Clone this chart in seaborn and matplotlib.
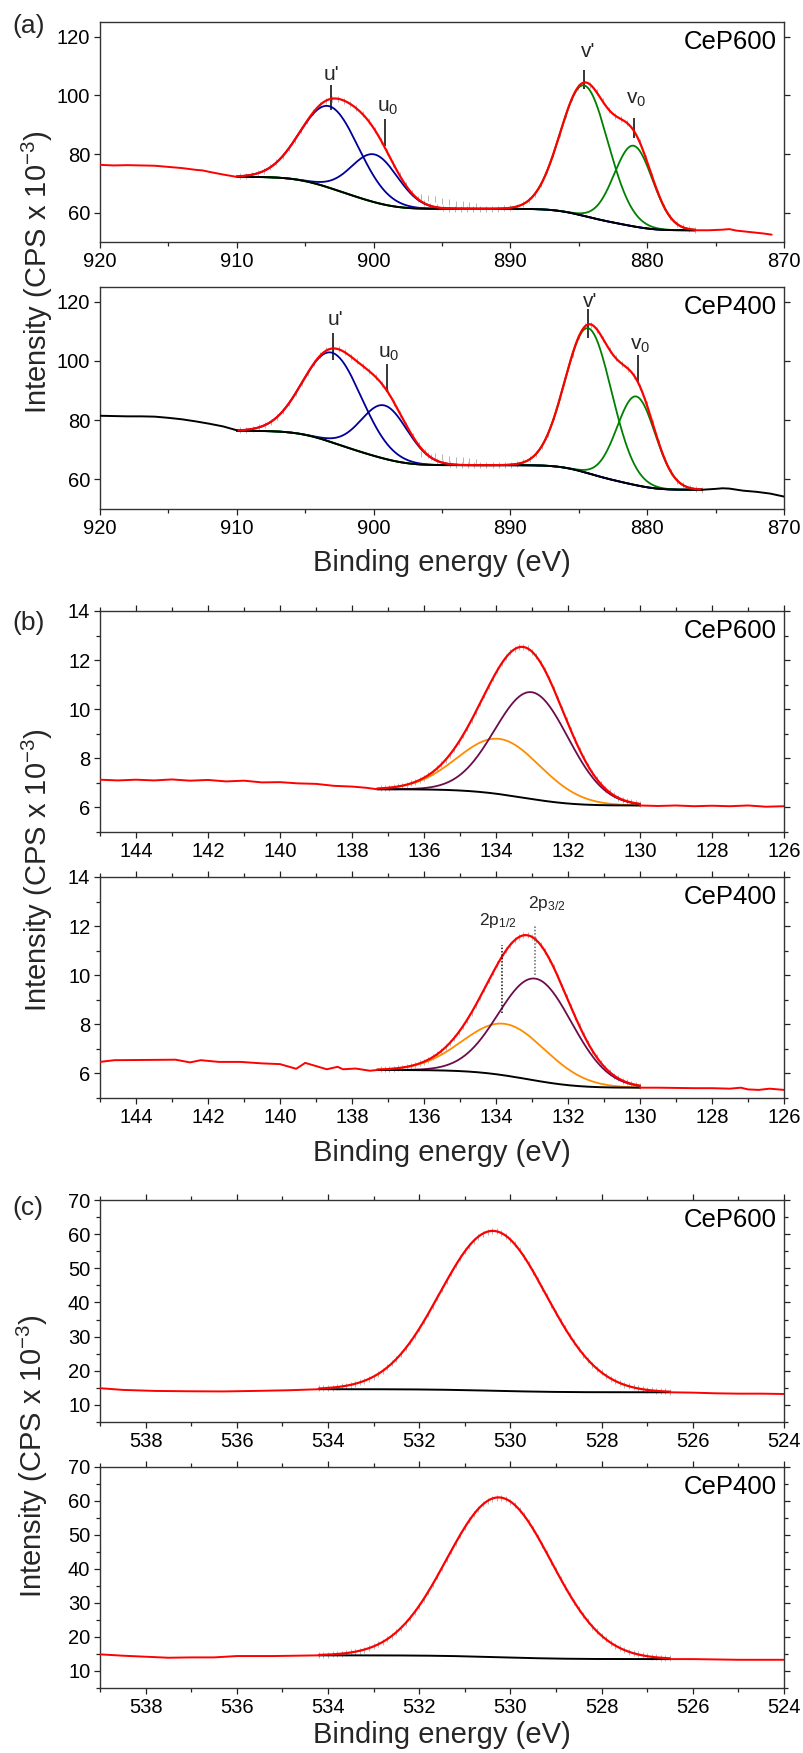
import numpy as np
import matplotlib
matplotlib.use("Agg")
import matplotlib.pyplot as plt
from matplotlib.ticker import MultipleLocator
import seaborn as sns

# ======================= DATA =======================
# ---- (a) Ce 3d ----
a_xlim = (920, 870)
a_ylim = (50, 125)
# fitted components: u', u0, v', v0  (centre eV, height above background, FWHM eV)
a600_centers = [903.2, 899.9, 884.6, 881.0]
a600_heights = [27.8, 16.3, 44.5, 27.5]
a600_fwhm = [5.0, 4.0, 4.1, 3.3]
a600_groups = [1, 1, 0, 0]
a600_bkg_levels = [54.0, 61.3, 72.2]
a600_fit_range = [876.5, 910.0]
a600_left_x = [920, 919, 918, 917, 916, 915, 914, 913, 912.5, 912, 911, 910]
a600_left_y = [76.3, 76.1, 76.2, 76.1, 76.0, 75.6, 75.2, 74.6, 74.4, 73.9, 73.0, 72.2]
a600_right_x = [876.5, 875.5, 874.5, 874.0, 873.5, 872.5, 871.5, 870.9]
a600_right_y = [54.0, 54.0, 54.2, 54.4, 53.9, 53.4, 52.9, 52.5]
a600_valley_x = [896.5, 896.0, 895.5, 895.0, 894.5, 894.0, 893.5, 893.0, 892.5]
a600_valley_y = [65.5, 65.0, 64.5, 64.0, 63.5, 63.1, 62.8, 62.5, 62.2]

a400_centers = [903.0, 899.2, 884.3, 880.8]
a400_heights = [30.3, 18.0, 49.0, 30.0]
a400_fwhm = [5.0, 4.0, 4.0, 3.3]
a400_groups = [1, 1, 0, 0]
a400_bkg_levels = [56.5, 64.8, 76.4]
a400_fit_range = [876.0, 910.0]
a400_left_x = [920, 919, 918, 917, 916, 915, 914, 913, 912, 911, 910]
a400_left_y = [81.5, 81.4, 81.3, 81.3, 81.2, 80.8, 80.3, 79.6, 78.8, 77.9, 76.6]
a400_right_x = [876.0, 875.0, 874.5, 874.0, 873.0, 872.0, 871.0, 870.0]
a400_right_y = [56.5, 56.8, 57.0, 56.9, 56.2, 55.8, 55.2, 54.2]
a400_valley_x = [896.5, 896.0, 895.5, 895.0, 894.5, 894.0, 893.5, 893.0, 892.5]
a400_valley_y = [68.5, 68.2, 67.8, 67.4, 67.0, 66.7, 66.4, 66.1, 65.8]

# peak markers (x, y_low, y_high) and labels (x, baseline y)
a_mark_labels = ["u'", "u$_{\\mathregular{0}}$", "v'", "v$_{\\mathregular{0}}$"]
a600_mark_x = [903.1, 899.2, 884.6, 881.0]
a600_mark_y0 = [95.0, 82.7, 102.0, 85.4]
a600_mark_y1 = [103.4, 91.9, 108.8, 92.2]
a600_lab_x = [903.1, 899.0, 884.35, 880.8]
a600_lab_y = [105.1, 94.3, 113.0, 97.2]
a400_mark_x = [903.0, 899.0, 884.3, 880.7]
a400_mark_y0 = [100.5, 89.4, 107.9, 92.4]
a400_mark_y1 = [109.3, 98.9, 117.6, 101.9]
a400_lab_x = [902.8, 898.9, 884.2, 880.5]
a400_lab_y = [112.1, 101.1, 118.4, 103.7]

# ---- (b) P 2p ----  components: 2p1/2 (orange), 2p3/2 (purple)
b_xlim = (145, 126)
b_ylim = (5, 14)
b600_centers = [133.9, 133.0]
b600_heights = [2.25, 4.35]
b600_fwhm = [2.7, 2.4]
b600_groups = [0, 0]
b600_bkg_levels = [6.08, 6.74]
b600_fit_range = [130.0, 137.3]
b600_left_x = [145.0, 144.5, 144.0, 143.5, 143.0, 142.5, 142.0, 141.5, 141.0, 140.5, 140.0,
               139.5, 139.0, 138.5, 138.0, 137.6, 137.3]
b600_left_y = [7.13, 7.10, 7.13, 7.10, 7.14, 7.09, 7.12, 7.06, 7.09, 7.02, 7.03,
               6.98, 6.96, 6.88, 6.85, 6.80, 6.74]
b600_right_x = [130.0, 129.5, 129.0, 128.5, 128.0, 127.5, 127.0, 126.5, 126.0]
b600_right_y = [6.08, 6.06, 6.08, 6.05, 6.07, 6.05, 6.08, 6.03, 6.05]

b400_centers = [133.75, 132.9]
b400_heights = [2.1, 4.15]
b400_fwhm = [2.7, 2.4]
b400_groups = [0, 0]
b400_bkg_levels = [5.42, 6.14]
b400_fit_range = [130.0, 137.3]
b400_left_x = [145.0, 144.6, 143.7, 142.9, 142.5, 142.2, 141.7, 141.1, 140.5, 140.0, 139.55,
               139.3, 139.0, 138.7, 138.4, 138.25, 137.9, 137.5, 137.3]
b400_left_y = [6.47, 6.54, 6.55, 6.56, 6.45, 6.54, 6.47, 6.47, 6.41, 6.38, 6.19,
               6.43, 6.30, 6.17, 6.27, 6.17, 6.20, 6.11, 6.14]
b400_right_x = [130.0, 129.5, 129.0, 128.5, 128.0, 127.5, 127.2, 127.0, 126.7, 126.4, 126.0]
b400_right_y = [5.42, 5.42, 5.41, 5.40, 5.40, 5.38, 5.42, 5.35, 5.33, 5.38, 5.33]
b_dot_x = [133.83, 132.92]
b_dot_y0 = [8.46, 10.02]
b_dot_y1 = [11.24, 12.0]
b_dot_colors = ["#111111", "#666666"]
b_lab_text = ["2p$_{\\mathregular{1/2}}$", "2p$_{\\mathregular{3/2}}$"]
b_lab_x = [134.46, 133.1]
b_lab_y = [12.06, 12.74]

# ---- (c) O 1s ----
c_xlim = (539, 524)
c_ylim = (5, 70)
c600_centers = [530.38]
c600_heights = [46.8]
c600_fwhm = [2.74]
c600_groups = [0]
c600_bkg_levels = [13.7, 14.6]
c600_fit_range = [526.5, 534.2]
c600_left_x = [539.0, 538.5, 537.8, 537.05, 536.3, 535.6, 534.85, 534.2]
c600_left_y = [14.9, 14.4, 14.1, 14.0, 13.95, 14.1, 14.3, 14.6]
c600_right_x = [526.5, 526.0, 525.5, 525.0, 524.5, 524.0]
c600_right_y = [13.7, 13.6, 13.4, 13.3, 13.3, 13.2]

c400_centers = [530.25]
c400_heights = [47.0]
c400_fwhm = [2.7]
c400_groups = [0]
c400_bkg_levels = [13.5, 14.6]
c400_fit_range = [526.5, 534.2]
c400_left_x = [539.0, 538.5, 538.0, 537.5, 537.0, 536.5, 536.0, 535.2, 534.7, 534.2]
c400_left_y = [14.9, 14.5, 14.2, 13.9, 14.0, 14.0, 14.4, 14.4, 14.5, 14.6]
c400_right_x = [526.5, 526.0, 525.5, 525.0, 524.5, 524.0]
c400_right_y = [13.5, 13.5, 13.4, 13.3, 13.3, 13.3]

sample_names = ["CeP600", "CeP400"]

# ======================= STYLE =======================
sns.set_theme(style="ticks")
plt.rcParams["font.family"] = ["Liberation Sans", "DejaVu Sans"]
plt.rcParams["mathtext.fontset"] = "custom"
plt.rcParams["mathtext.rm"] = "Liberation Sans"
plt.rcParams["mathtext.it"] = "Liberation Sans"
plt.rcParams["mathtext.bf"] = "Liberation Sans"
plt.rcParams["axes.linewidth"] = 1.0
plt.rcParams["axes.edgecolor"] = "#333333"

RED = "#ff0000"
BLUE = "#000099"
GREEN = "#008000"
PURPLE = "#6b0d4d"
ORANGE = "#ff8c00"
GREY = "#b4b4b4"

W, H = 804, 1753
fig = plt.figure(figsize=(W / 100, H / 100), dpi=100)
L, R = 100, 784


def add_ax(top, bottom):
    return fig.add_axes([L / W, 1 - bottom / H, (R - L) / W, (bottom - top) / H])


def model(grid, centers, heights, fwhm, groups, levels):
    peaks = [h * np.exp(-4 * np.log(2) * ((grid - c) / w) ** 2)
             for c, h, w in zip(centers, heights, fwhm)]
    bkg = np.full_like(grid, levels[0], dtype=float)
    for g in range(len(levels) - 1):
        s = sum(p for p, gg in zip(peaks, groups) if gg == g)
        cum = np.cumsum(s)
        cum = cum / cum[-1]
        bkg = bkg + (levels[g + 1] - levels[g]) * cum
    return peaks, bkg


def draw(ax, centers, heights, fwhm, groups, levels, fit_range, comp_colors,
         left, right, raw_color, step):
    grid = np.linspace(fit_range[0], fit_range[1], 900)
    peaks, bkg = model(grid, centers, heights, fwhm, groups, levels)
    env = bkg + sum(peaks)
    # raw data marks in fit region
    xs = np.arange(fit_range[0], fit_range[1], step)
    ax.plot(xs, np.interp(xs, grid, env), ls="none", marker="|", ms=4.5,
            mew=0.7, color=GREY, zorder=1)
    for p, col in zip(peaks, comp_colors):
        if col is None:
            continue
        sns.lineplot(x=grid, y=bkg + p, ax=ax, color=col, lw=1.3, zorder=3,
                     estimator=None, errorbar=None)
    # background
    sns.lineplot(x=grid, y=bkg, ax=ax, color="black", lw=1.4, zorder=4,
                 estimator=None, errorbar=None)
    sns.lineplot(x=grid, y=env, ax=ax, color=RED, lw=1.6, zorder=5,
                 estimator=None, errorbar=None)
    for (xx, yy) in (left, right):
        sns.lineplot(x=xx, y=yy, ax=ax, color=raw_color, lw=1.4, zorder=5,
                     estimator=None, errorbar=None)


def style(ax, xlim, ylim, xmaj, xmin, ymaj, ymin, topright_minor):
    ax.set_xlim(*xlim)
    ax.set_ylim(*ylim)
    ax.xaxis.set_major_locator(MultipleLocator(xmaj))
    ax.xaxis.set_minor_locator(MultipleLocator(xmin))
    ax.yaxis.set_major_locator(MultipleLocator(ymaj))
    if ymin:
        ax.yaxis.set_minor_locator(MultipleLocator(ymin))
    else:
        ax.yaxis.set_minor_locator(plt.NullLocator())
    ax.tick_params(axis="both", which="major", direction="out", length=4.5,
                   width=0.9, pad=2.5, labelsize=14.5, colors="#222222",
                   labelcolor="black")
    ax.tick_params(axis="both", which="minor", direction="out", length=2.8,
                   width=0.9, colors="#222222")
    ax.tick_params(which="both", right=True, top=topright_minor)
    if not topright_minor:
        ax.tick_params(axis="y", which="minor", right=False)
        ax.tick_params(axis="x", which="both", top=False)
    ax.set_xlabel("")
    ax.set_ylabel("")
    for s in ax.spines.values():
        s.set_visible(True)


def name_tag(ax, text):
    ax.text(0.989, 0.962, text, transform=ax.transAxes, ha="right", va="top",
            fontsize=18.5, color="black", zorder=10)


# ---------------- (a) ----------------
ax = add_ax(22, 242)
draw(ax, a600_centers, a600_heights, a600_fwhm, a600_groups, a600_bkg_levels,
     a600_fit_range, [BLUE, BLUE, GREEN, GREEN],
     (a600_left_x, a600_left_y), (a600_right_x, a600_right_y), RED, 0.45)
ax.plot(a600_valley_x, a600_valley_y, ls="none", marker="|", ms=4.5, mew=0.7,
        color=GREY, zorder=1)
ax.vlines(a600_mark_x, a600_mark_y0, a600_mark_y1, color="black", lw=1.1, zorder=2)
for t, x, y in zip(a_mark_labels, a600_lab_x, a600_lab_y):
    ax.text(x, y, t, ha="center", va="baseline", fontsize=15)
style(ax, a_xlim, a_ylim, 10, 5, 20, None, False)
name_tag(ax, sample_names[0])

ax = add_ax(287, 509)
draw(ax, a400_centers, a400_heights, a400_fwhm, a400_groups, a400_bkg_levels,
     a400_fit_range, [BLUE, BLUE, GREEN, GREEN],
     (a400_left_x, a400_left_y), (a400_right_x, a400_right_y), "black", 0.45)
ax.plot(a400_valley_x, a400_valley_y, ls="none", marker="|", ms=4.5, mew=0.7,
        color=GREY, zorder=1)
ax.vlines(a400_mark_x, a400_mark_y0, a400_mark_y1, color="black", lw=1.1, zorder=2)
for t, x, y in zip(a_mark_labels, a400_lab_x, a400_lab_y):
    ax.text(x, y, t, ha="center", va="baseline", fontsize=15)
style(ax, a_xlim, a_ylim, 10, 5, 20, None, False)
name_tag(ax, sample_names[1])

# ---------------- (b) ----------------
ax = add_ax(611, 832)
draw(ax, b600_centers, b600_heights, b600_fwhm, b600_groups, b600_bkg_levels,
     b600_fit_range, [ORANGE, PURPLE],
     (b600_left_x, b600_left_y), (b600_right_x, b600_right_y), RED, 0.12)
style(ax, b_xlim, b_ylim, 2, 1, 2, 1, True)
name_tag(ax, sample_names[0])

ax = add_ax(877, 1098)
draw(ax, b400_centers, b400_heights, b400_fwhm, b400_groups, b400_bkg_levels,
     b400_fit_range, [ORANGE, PURPLE],
     (b400_left_x, b400_left_y), (b400_right_x, b400_right_y), RED, 0.12)
for x, y0, y1, col in zip(b_dot_x, b_dot_y0, b_dot_y1, b_dot_colors):
    ax.vlines(x, y0, y1, color=col, lw=1.1, linestyles=(0, (1, 1.2)), zorder=6)
for t, x, y in zip(b_lab_text, b_lab_x, b_lab_y):
    ax.text(x, y, t, ha="left", va="baseline", fontsize=12.5)
style(ax, b_xlim, b_ylim, 2, 1, 2, 1, True)
name_tag(ax, sample_names[1])

# ---------------- (c) ----------------
ax = add_ax(1200, 1422)
draw(ax, c600_centers, c600_heights, c600_fwhm, c600_groups, c600_bkg_levels,
     c600_fit_range, [None],
     (c600_left_x, c600_left_y), (c600_right_x, c600_right_y), RED, 0.1)
style(ax, c_xlim, c_ylim, 2, 1, 10, 5, True)
name_tag(ax, sample_names[0])

ax = add_ax(1467, 1688)
draw(ax, c400_centers, c400_heights, c400_fwhm, c400_groups, c400_bkg_levels,
     c400_fit_range, [None],
     (c400_left_x, c400_left_y), (c400_right_x, c400_right_y), RED, 0.1)
style(ax, c_xlim, c_ylim, 2, 1, 10, 5, True)
name_tag(ax, sample_names[1])

# ---------------- labels ----------------
ylab = "Intensity (CPS x 10$^{\\mathregular{-3}}$)"
for xc, yc in [(37, 272), (37, 870), (32, 1456)]:
    fig.text(xc / W, 1 - yc / H, ylab, rotation=90, ha="center", va="center",
             fontsize=21)
for yc in [563, 1153, 1735]:
    fig.text((L + R) / 2 / W, 1 - yc / H, "Binding energy (eV)", ha="center",
             va="center", fontsize=21)
for t, yt in [("(a)", 14), ("(b)", 611), ("(c)", 1196)]:
    fig.text(12 / W, 1 - yt / H, t, ha="left", va="top", fontsize=19)

fig.savefig("out.png", dpi=100)
